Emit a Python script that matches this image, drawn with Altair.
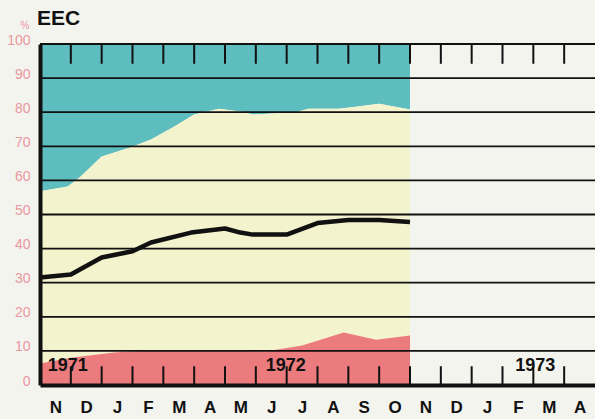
import altair as alt
import pandas as pd

# ---- data (month index: 0 = start of Nov 1971) ----
month_labels = ["N", "D", "J", "F", "M", "A", "M", "J", "J", "A", "S", "O",
                "N", "D", "J", "F", "M", "A"]

upper_x = [0, 0.9, 1.3, 2.0, 2.9, 3.6, 4.3, 5.0, 5.8, 6.5, 6.9, 8.3, 8.7, 9.7, 10.3, 11.0, 12.0]
upper_v = [56.8, 58.2, 61, 67, 69.6, 72, 75.5, 79.3, 81, 80.2, 79.3, 80, 81, 81, 81.7, 82.5, 80.8]

line_x = [0, 1, 2, 3, 3.6, 4.9, 6.0, 6.5, 6.9, 8.0, 9.0, 10.0, 11.0, 12.0]
line_v = [31.5, 32.4, 37.4, 39.2, 41.8, 44.7, 45.9, 44.7, 44.1, 44.1, 47.5, 48.4, 48.4, 47.8]

pink_x = [0, 1, 2.4, 3.5, 6.5, 7.3, 8.5, 9.1, 9.85, 10.9, 12.0]
pink_v = [6.3, 8.0, 9.5, 10.1, 10.1, 9.8, 11.6, 13.3, 15.4, 13.3, 14.5]

years = ["1971", "1972", "1973"]
year_x = [0.9, 7.97, 16.06]

tick_positions = list(range(1, 18))
y_ticks = list(range(0, 101, 10))
grid_values = list(range(10, 101, 10))

TEAL = "#5EBDBE"
CREAM = "#F3F3CD"
PINK = "#EC7B7D"
BG = "#F4F4EF"
LABEL_PINK = "#EA97A0"

upper_df = pd.DataFrame({"m": upper_x, "v": upper_v})
line_df = pd.DataFrame({"m": line_x, "v": line_v})
pink_df = pd.DataFrame({"m": pink_x, "v": pink_v})
year_df = pd.DataFrame({"m": year_x, "t": years})
tick_df = pd.DataFrame({"m": tick_positions})
grid_df = pd.DataFrame({"v": grid_values})

xscale = alt.Scale(domain=[0, 18], nice=False, zero=False)
yscale = alt.Scale(domain=[0, 100], nice=False)

label_expr = "[" + ",".join("'%s'" % m for m in month_labels) + "][floor(datum.value)]"

x_axis = alt.Axis(values=[k + 0.5 for k in range(18)], labelExpr=label_expr,
                  tickCount=100,
                  grid=False, ticks=False, tickSize=0, domain=True,
                  domainColor="#111111", domainWidth=4,
                  labelFont="Liberation Sans", labelFontWeight="bold",
                  labelFontSize=17, labelColor="#111111", labelPadding=14,
                  labelOverlap=False, labelFlush=False,
                  title=None, zindex=2)
y_axis = alt.Axis(values=y_ticks, tickCount=100,
                  grid=False, ticks=False, tickSize=0, domain=True,
                  domainColor="#111111", domainWidth=4,
                  labelFont="Liberation Sans", labelFontSize=14,
                  labelColor=LABEL_PINK, labelPadding=10, labelOffset=-4,
                  labelOverlap=False, labelFlush=False,
                  title=None, zindex=2)

teal = alt.Chart(upper_df).mark_area(color=TEAL, opacity=1).encode(
    x=alt.X("m:Q", scale=xscale, axis=x_axis),
    y=alt.Y("v:Q", scale=yscale, axis=y_axis),
    y2=alt.Y2(datum=100),
)
cream = alt.Chart(upper_df).mark_area(color=CREAM, opacity=1).encode(
    x=alt.X("m:Q", scale=xscale),
    y=alt.Y("v:Q", scale=yscale),
)
pink = alt.Chart(pink_df).mark_area(color=PINK, opacity=1).encode(
    x=alt.X("m:Q", scale=xscale),
    y=alt.Y("v:Q", scale=yscale),
)
grid = alt.Chart(grid_df).mark_rule(color="#111111", strokeWidth=1.8).encode(
    y=alt.Y("v:Q", scale=yscale),
    x=alt.X(datum=0, scale=xscale),
    x2=alt.X2(datum=18),
)
line = alt.Chart(line_df).mark_line(color="#111111", strokeWidth=4.5,
                                    strokeJoin="round").encode(
    x=alt.X("m:Q", scale=xscale),
    y=alt.Y("v:Q", scale=yscale),
)
top_ticks = alt.Chart(tick_df).mark_rule(color="#111111", strokeWidth=2).encode(
    x=alt.X("m:Q", scale=xscale),
    y=alt.Y(datum=100, scale=yscale),
    y2=alt.Y2(datum=94.2),
)
bottom_ticks = alt.Chart(tick_df).mark_rule(color="#111111", strokeWidth=2).encode(
    x=alt.X("m:Q", scale=xscale),
    y=alt.Y(datum=0, scale=yscale),
    y2=alt.Y2(datum=5.5),
)
year_text = alt.Chart(year_df).mark_text(
    font="Liberation Sans", fontWeight="bold", fontSize=18, color="#111111",
    baseline="middle", align="center"
).encode(
    x=alt.X("m:Q", scale=xscale),
    y=alt.Y(datum=5.7, scale=yscale),
    text="t:N",
)
title_text = alt.Chart(pd.DataFrame({"t": ["EEC"]})).mark_text(
    font="Liberation Sans", fontWeight="bold", fontSize=21, color="#111111",
    align="left", baseline="alphabetic"
).encode(x=alt.value(-3), y=alt.value(-19), text="t:N")
pct_text = alt.Chart(pd.DataFrame({"t": ["%"]})).mark_text(
    font="Liberation Sans", fontSize=10, color=LABEL_PINK,
    align="center", baseline="middle"
).encode(x=alt.value(-15), y=alt.value(-18), text="t:N")

chart = alt.layer(
    teal, cream, pink, grid, line, top_ticks, bottom_ticks, year_text, title_text, pct_text
).properties(
    width=555, height=341,
    autosize=alt.AutoSizeParams(type="none"),
    padding={"left": 40, "top": 44, "right": 0, "bottom": 34},
    background=BG,
).configure_view(stroke=None, fill=BG)

chart.save("out.html", embed_options={"renderer": "svg", "actions": False})
